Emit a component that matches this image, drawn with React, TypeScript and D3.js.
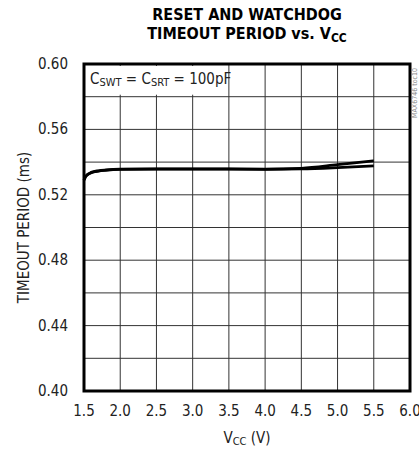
import React from "react";
import * as d3 from "d3";

// supply voltage (V)
const vcc = [1.5, 1.52, 1.55, 1.6, 1.7, 1.8, 2.0, 2.5, 3.0, 3.5, 4.0, 4.5, 5.0, 5.5];
// timeout period (ms)
const resetTimeout = [0.529, 0.531, 0.5325, 0.5337, 0.5347, 0.5352, 0.5357, 0.5358, 0.5358, 0.5358, 0.5357, 0.5362, 0.5384, 0.5408];
const watchdogTimeout = [0.529, 0.531, 0.5323, 0.5335, 0.5345, 0.535, 0.5355, 0.5357, 0.5357, 0.5357, 0.5356, 0.5358, 0.5366, 0.5377];

const xTicks = [1.5, 2.0, 2.5, 3.0, 3.5, 4.0, 4.5, 5.0, 5.5, 6.0];
const yLabelTicks = [0.4, 0.44, 0.48, 0.52, 0.56, 0.6];
const yGridTicks = [0.42, 0.44, 0.46, 0.48, 0.5, 0.52, 0.54, 0.56, 0.58];

const W = 419;
const H = 453;
const m = { left: 84, right: 9, top: 64, bottom: 62 };
const font = "'Liberation Sans Narrow', 'DejaVu Sans Condensed', 'Liberation Sans', sans-serif";

const App: React.FC = () => {
  const x = d3.scaleLinear().domain([1.5, 6.0]).range([m.left, W - m.right]);
  const y = d3.scaleLinear().domain([0.4, 0.6]).range([H - m.bottom, m.top]);

  const line = d3
    .line<number>()
    .x((_, i) => x(vcc[i]))
    .y((d) => y(d))
    .curve(d3.curveMonotoneX);

  const cx = (x(1.5) + x(6.0)) / 2;

  return (
    <svg width={W} height={H} style={{ position: "absolute", left: 0, top: 0 }}>
      <rect width={W} height={H} fill="#fff" />
      {/* title */}
      <text x={cx} y={20} textAnchor="middle" fontFamily={font} fontWeight={900} fontSize={16} fill="#000">
        RESET AND WATCHDOG
      </text>
      <text x={cx} y={39} textAnchor="middle" fontFamily={font} fontWeight={900} fontSize={16} fill="#000">
        TIMEOUT PERIOD vs. V<tspan fontSize={12} dy={3}>CC</tspan>
      </text>

      {/* grid */}
      {xTicks.slice(1, -1).map((t) => (
        <line key={"gx" + t} x1={x(t)} x2={x(t)} y1={y(0.6)} y2={y(0.4)} stroke="#333" strokeWidth={1} />
      ))}
      {yGridTicks.map((t) => (
        <line key={"gy" + t} x1={x(1.5)} x2={x(6.0)} y1={y(t)} y2={y(t)} stroke="#333" strokeWidth={1} />
      ))}

      {/* annotation */}
      <rect x={x(1.5) + 2} y={y(0.6) + 2} width={124} height={y(0.58) - y(0.6) - 4} fill="#fff" />
      <text x={x(1.5) + 6} y={y(0.6) + 20} fontFamily={font} fontSize={15} fill="#222">
        C<tspan fontSize={11} dy={2}>SWT</tspan>
        <tspan dy={-2}> = C</tspan>
        <tspan fontSize={11} dy={2}>SRT</tspan>
        <tspan dy={-2}> = 100pF</tspan>
      </text>

      {/* curves */}
      <path d={line(resetTimeout) || ""} fill="none" stroke="#000" strokeWidth={2.8} />
      <path d={line(watchdogTimeout) || ""} fill="none" stroke="#000" strokeWidth={2.8} />

      {/* frame */}
      <rect x={x(1.5)} y={y(0.6)} width={x(6.0) - x(1.5)} height={y(0.4) - y(0.6)} fill="none" stroke="#000" strokeWidth={3} />

      {/* y tick labels */}
      {yLabelTicks.map((t) => (
        <text key={"yl" + t} x={68} y={y(t) + 5} textAnchor="end" fontFamily={font} fontSize={15} fill="#222">
          {t.toFixed(2)}
        </text>
      ))}
      {/* x tick labels */}
      {xTicks.map((t) => (
        <text key={"xl" + t} x={x(t)} y={416} textAnchor="middle" fontFamily={font} fontSize={15} fill="#222">
          {t.toFixed(1)}
        </text>
      ))}

      {/* axis titles */}
      <text x={cx} y={443} textAnchor="middle" fontFamily={font} fontSize={15} fill="#222">
        V<tspan fontSize={11} dy={2}>CC</tspan>
        <tspan dy={-2}> (V)</tspan>
      </text>
      <text
        transform={`translate(29, ${(y(0.6) + y(0.4)) / 2}) rotate(-90)`}
        textAnchor="middle"
        fontFamily={font}
        fontSize={15}
        fill="#222"
      >
        TIMEOUT PERIOD (ms)
      </text>
      <text
        transform={`translate(417, ${y(0.6) + 4}) rotate(-90)`}
        textAnchor="end"
        fontFamily={font}
        fontSize={7}
        fill="#888"
      >
        MAX6746 toc10
      </text>
    </svg>
  );
};

export default App;
